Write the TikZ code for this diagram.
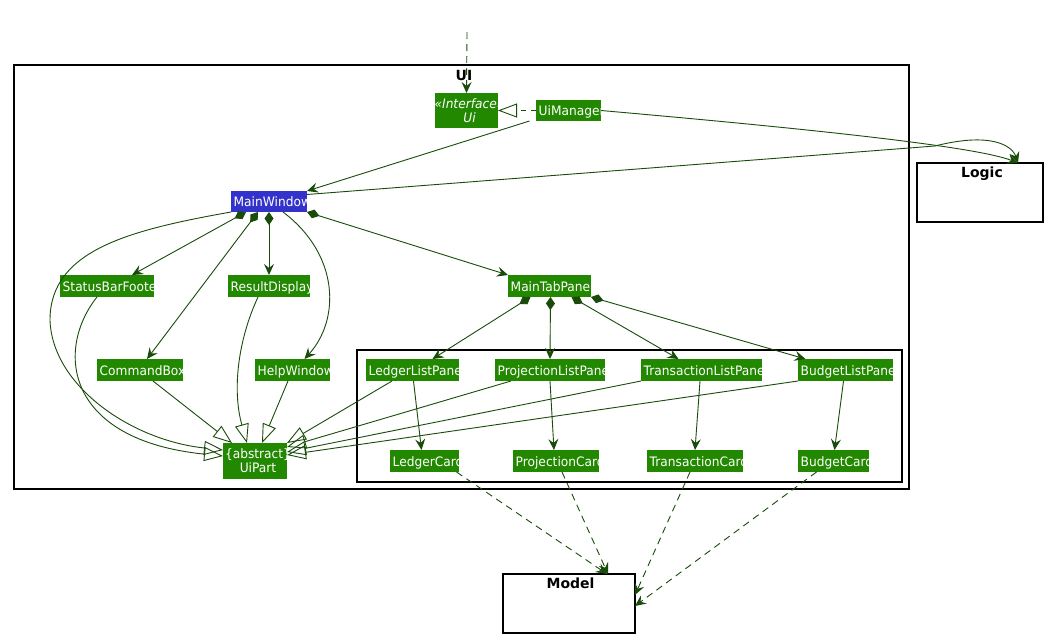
\documentclass[tikz,border=0pt]{standalone}
\usepackage{fontspec}
\setmainfont{DejaVu Sans}
\newfontfamily\boxfam{DejaVu Sans}[FakeStretch=0.94]
\usetikzlibrary{arrows.meta,calc}
\definecolor{boxgreen}{RGB}{34,136,0}
\definecolor{mwblue}{RGB}{51,51,204}
\definecolor{linecol}{RGB}{25,75,10}
\newcommand\boxfont{\boxfam\fontsize{13}{14}\selectfont}
\newcommand\pkgfont{\fontsize{14}{16}\selectfont\bfseries}
\tikzset{
  ubase/.style={inner sep=0pt, outer sep=0pt},
  utext/.style={text=white, inner sep=0pt, font=\boxfont},
  conn/.style={draw=linecol, line width=0.9pt},
  arr/.style={conn, -{Stealth[length=11pt,width=10pt,inset=4pt]}},
  comp/.style={conn, {Diamond[length=13pt,width=9pt]}-{Stealth[length=11pt,width=10pt,inset=4pt]}},
  gen/.style={conn, -{Triangle[open,length=19pt,width=14pt]}},
  dep/.style={arr, dash pattern=on 7pt off 5pt},
  real/.style={gen, dash pattern=on 5pt off 5pt},
  pkg/.style={draw=black, line width=1.4pt, inner sep=0pt, outer sep=0pt},
  pkglabel/.style={font=\pkgfont, anchor=base, inner sep=0pt},
}
% name, cx, cy, w, h, text
\newcommand\ubox[7][boxgreen]{%
  \node[ubase, fill=#1, minimum width=#5pt, minimum height=#6pt] (#2) at (#3,#4) {};
  \begin{scope}
    \clip (#2.south west) rectangle (#2.north east);
    \node[utext, anchor=base west] (#2-t) at ($(#2.west)+(2.5,5)$) {#7};
  \end{scope}}
\newcommand\cbox[6]{%
  \node[ubase, fill=boxgreen, minimum width=#4pt, minimum height=#5pt] (#1) at (#2,#3) {};
  \begin{scope}
    \clip (#1.south west) rectangle (#1.north east);
    \node[utext, align=center] (#1-t) at ($(#1.center)+(3,0)$) {#6};
  \end{scope}}
\begin{document}
\begin{tikzpicture}[x=1pt,y=-1pt]
\useasboundingbox[fill=white] (0,0) rectangle (1053,643);
% packages
\draw[pkg] (14,65) rectangle (909,489);
\node[pkglabel] (uilabel) at (464,80) {UI};
\draw[pkg] (357,350) rectangle (902,482);
\node[pkg, minimum width=126pt, minimum height=59pt] (logic) at (980,192.5) {};
\node[pkglabel] (logiclabel) at ($(logic.north)+(2,14.5)$) {Logic};
\node[pkg, minimum width=132pt, minimum height=59pt] (model) at (569,603.5) {};
\node[pkglabel] (modellabel) at ($(model.north)+(1.5,14.5)$) {Model};
% classes
\cbox{iface}{466.5}{110.5}{63}{35}{\itshape «Interface»\\\itshape Ui}
\ubox{uimgr}{568.5}{110.5}{65}{21}{UiManager}
\ubox[mwblue]{mainwin}{269}{201.5}{76}{21}{MainWindow}
\ubox{sbf}{107}{286}{94}{22}{StatusBarFooter}
\ubox{rd}{269}{286}{82}{22}{ResultDisplay}
\ubox{mtp}{549.5}{286}{83}{22}{MainTabPanel}
\ubox{cb}{140}{370}{86}{22}{CommandBox}
\ubox{hw}{292.5}{370}{75}{22}{HelpWindow}
\cbox{uipart}{255}{461}{64}{36}{\{abstract\}\\UiPart}
\ubox{llp}{412.5}{370}{93}{22}{LedgerListPanel}
\ubox{plp}{550}{370}{110}{22}{ProjectionListPanel}
\ubox{tlp}{701.5}{370}{121}{22}{TransactionListPanel}
\ubox{blp}{845.5}{370}{95}{22}{BudgetListPanel}
\ubox{lc}{424.5}{461}{69}{22}{LedgerCard}
\ubox{pc}{556}{461}{86}{22}{ProjectionCard}
\ubox{tc}{695}{461}{96}{22}{TransactionCard}
\ubox{bc}{833.5}{461}{71}{22}{BudgetCard}
\coordinate (ext) at (467,32);
% connectors
\draw[dep] (ext) -- (iface.north);
\draw[real] (uimgr.west) -- (iface.east);
\draw[arr] ($(uimgr.south)+(-39,0)$) -- (mainwin.north east);
\draw[arr] (uimgr.east) .. controls (800,128) and (975,146) .. ($(logic.north)+(38,0)$);
\draw[arr] ($(mainwin.east)+(0,-7)$) -- (935,146) .. controls (990,132) and (1012,145) .. ($(logic.north)+(38,0)$);
\draw[comp] ($(mainwin.south)+(-23,0)$) -- ($(sbf.north)+(25,0)$);
\draw[comp] ($(mainwin.south)+(-11,0)$) -- ($(cb.north)+(7,0)$);
\draw[comp] (mainwin.south) -- (rd.north);
\draw[comp] (mainwin.south east) -- (mtp.north west);
\draw[arr] ($(mainwin.south)+(14,0)$) .. controls (340,255) and (340,320) .. ($(hw.north)+(12,0)$);
\draw[gen] (mainwin.south west) .. controls (130,230) and (50,250) .. (50,320) .. controls (52,385) and (130,440) .. ($(uipart.west)+(0,-11)$);
\draw[gen] ($(sbf.south)+(-10,0)$) .. controls (55,350) and (65,440) .. ($(uipart.west)+(0,-5)$);
\draw[gen] ($(cb.south)+(13,0)$) -- ($(uipart.north west)+(9,0)$);
\draw[gen] ($(rd.south)+(-11,0)$) .. controls (238,340) and (232,390) .. ($(uipart.north)+(-8,0)$);
\draw[gen] ($(hw.south)+(-4.5,0)$) -- ($(uipart.north)+(7,0)$);
\draw[gen] ($(llp.south)+(-20.5,0)$) -- (uipart.north east);
\draw[gen] ($(plp.south)+(-39,0)$) -- ($(uipart.east)+(0,-14)$);
\draw[gen] (tlp.south west) -- ($(uipart.east)+(0,-9)$);
\draw[gen] (blp.south west) -- ($(uipart.east)+(0,-6)$);
\draw[comp] ($(mtp.south)+(-19,0)$) -- ($(llp.north)+(20,0)$);
\draw[comp] ($(mtp.south)+(1,0)$) -- (plp.north);
\draw[comp] ($(mtp.south)+(22,0)$) -- ($(tlp.north)+(-23,0)$);
\draw[comp] (mtp.south east) -- ($(blp.north)+(-40,0)$);
\draw[arr] ($(llp.south)+(1,0)$) -- ($(lc.north)+(-3,0)$);
\draw[arr] (plp.south) -- ($(pc.north)+(-2,0)$);
\draw[arr] ($(tlp.south)+(-1.5,0)$) -- (tc.north);
\draw[arr] ($(blp.south)+(-2,0)$) -- ($(bc.north)+(1,0)$);
\draw[dep] ($(lc.south)+(32,0)$) -- ($(model.north)+(38,0)$);
\draw[dep] ($(pc.south)+(6,0)$) -- ($(model.north)+(39,0)$);
\draw[dep] ($(tc.south)+(-5,0)$) -- ($(model.east)+(0,-8.5)$);
\draw[dep] ($(bc.south)+(-17,0)$) -- ($(model.east)+(0,2.5)$);
\end{tikzpicture}
\end{document}
